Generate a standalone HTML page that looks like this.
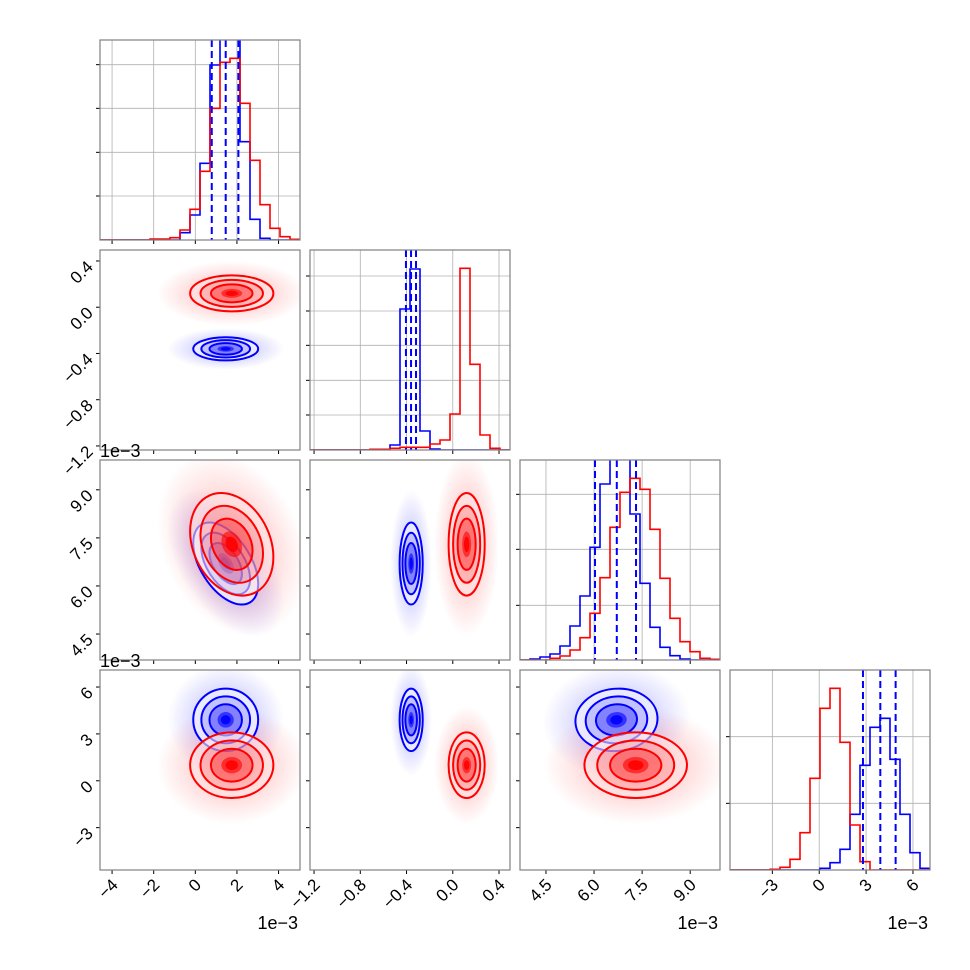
<!DOCTYPE html>
<html><head><meta charset="utf-8">
<style>
html,body{margin:0;padding:0;background:#fff;}
svg{display:block;font-family:"Liberation Sans","DejaVu Sans",sans-serif;}
</style></head>
<body>
<svg id="chart" width="970" height="970" viewBox="0 0 970 970" xmlns="http://www.w3.org/2000/svg">
<defs>
<radialGradient id="gBlue"><stop offset="0" stop-color="#0000ff" stop-opacity="0.35"/><stop offset="0.5" stop-color="#0000ff" stop-opacity="0.15"/><stop offset="1" stop-color="#0000ff" stop-opacity="0"/></radialGradient>
<radialGradient id="gRed"><stop offset="0" stop-color="#ff0000" stop-opacity="0.35"/><stop offset="0.5" stop-color="#ff0000" stop-opacity="0.15"/><stop offset="1" stop-color="#ff0000" stop-opacity="0"/></radialGradient>
</defs>
</svg>
<script>
// ---- data ----
const ranges = [[-4.58,5.03],[-1.235,0.495],[3.69,9.93],[-5.71,7.09]];
const tickVals = [[-4,-2,0,2,4],[-1.2,-0.8,-0.4,0.0,0.4],[4.5,6.0,7.5,9.0],[-3,0,3,6]];
const tickLabels = [["−4","−2","0","2","4"],["−1.2","−0.8","−0.4","0.0","0.4"],["4.5","6.0","7.5","9.0"],["−3","0","3","6"]];
const offsetLabels = ["1e−3","","1e−3","1e−3"];
const blueMean = [1.46,-0.36,6.7,3.9];
const blueStd = [0.78,0.05,0.64,1.0];
const redMean = [1.75,0.12,7.3,1.0];
const redStd = [1.0,0.078,0.8,1.05];
// pairs: (1,0),(2,0),(2,1),(3,0),(3,1),(3,2)
const blueRho = [0,-0.5,0,0,0,0.05];
const redRho = [0,-0.25,0,0,0,0];
const h1Blue=[0,0,0,0,0,0,0,0,22,75,230,525,650,660,295,62,5,0,0,0];
const h1Red=[0,0,0,0,0,3,3,7,30,92,206,395,533,545,410,239,106,35,10,2];
const h2Blue=[0,0,0,0,0,0,0,0,15,423,543,57,3,0,0,0,0,0,0,0];
const h2Red=[0,0,0,0,0,0,2,2,5,8,8,8,18,30,108,545,257,45,5,0];
const h3Blue=[0,3,9,18,42,102,192,338,528,650,640,438,230,98,38,13,3,0,0,0];
const h3Red=[0,0,0,5,12,30,67,140,247,398,503,545,512,392,245,125,55,25,5,2];
const h4Blue=[0,0,0,0,0,0,0,0,0,5,22,62,167,314,428,455,332,167,52,5];
const h4Red=[0,0,0,0,2,8,32,112,275,485,545,383,135,25,0,0,0,0,0,0];
const histMax = 600;
const histTicks = [[132,263,395,526],[105,209,314,417,522],[164,332,497],[200,400]];
const quantiles = [[0.79,1.46,2.07],[-0.405,-0.361,-0.318],[6.03,6.71,7.31],[2.80,3.91,4.89]];
const levels = [2,1.5,1,0.5];

const NS="http://www.w3.org/2000/svg";
const svg=document.getElementById('chart');
const S=200, G=210, L0=100, T0=40;
function el(tag,attrs,parent){const e=document.createElementNS(NS,tag);for(const k in attrs)e.setAttribute(k,attrs[k]);(parent||svg).appendChild(e);return e;}
function xs(p,v){const c=p;return L0+G*c+(v-ranges[p][0])/(ranges[p][1]-ranges[p][0])*S;}
function ys(p,row,v){return T0+G*row+S-(v-ranges[p][0])/(ranges[p][1]-ranges[p][0])*S;}
function kx(p){return S/(ranges[p][1]-ranges[p][0]);}

const hists=[[h1Blue,h1Red],[h2Blue,h2Red],[h3Blue,h3Red],[h4Blue,h4Red]];
const pairIdx={"1,0":0,"2,0":1,"2,1":2,"3,0":3,"3,1":4,"3,2":5};

for(let r=0;r<4;r++){
  for(let c=0;c<=r;c++){
    const left=L0+G*c, top=T0+G*r;
    const g=el('g',{});
    
    
    const cid=`clip${r}${c}`;
    const cp=el('clipPath',{id:cid},g);el('rect',{x:left,y:top,width:S,height:S},cp);
    const inner=el('g',{'clip-path':`url(#${cid})`},g);
    if(r===c){
      tickVals[c].forEach(v=>{const x=xs(c,v);el('line',{x1:x,x2:x,y1:top,y2:top+S,stroke:'#b0b0b0','stroke-width':0.8},inner);});
      histTicks[c].forEach(v=>{const y=top+S-v/histMax*S;el('line',{x1:left,x2:left+S,y1:y,y2:y,stroke:'#b0b0b0','stroke-width':0.8},inner);
        el('line',{x1:left-4,x2:left,y1:y,y2:y,stroke:'#000','stroke-width':1},g);});
      const cols=['#0000ff','#ff0000'];
      hists[c].forEach((h,si)=>{
        let d=`M${left},${top+S}`;const bw=S/h.length;
        h.forEach((v,i)=>{const y=top+S-v/histMax*S;d+=` L${left+i*bw},${y} L${left+(i+1)*bw},${y}`;});
        d+=` L${left+S},${top+S}`;
        const p=el('path',{d,fill:'none',stroke:cols[si],'stroke-width':1.6},inner);
        
        
      });
      quantiles[c].forEach(q=>{const x=xs(c,q);const ln=el('line',{x1:x,x2:x,y1:top,y2:top+S,stroke:'#0000ff','stroke-width':2,'stroke-dasharray':'7,4'},inner);
        
        });
    } else {
      const series=[[blueMean,blueStd,blueRho,'#0000ff','url(#gBlue)'],[redMean,redStd,redRho,'#ff0000','url(#gRed)']];
      const geo=series.map(([m,s,rho])=>{
        const cx=xs(c,m[c]), cy=ys(r,r,m[r]);
        const sx=s[c]*kx(c), sy=s[r]*kx(r), rh=-rho[pairIdx[r+","+c]];
        const a=sx*sx,d=sy*sy,b=rh*sx*sy;
        const mid=(a+d)/2, del=Math.sqrt(((a-d)/2)**2+b*b);
        const ang=0.5*Math.atan2(2*b,a-d)*180/Math.PI;
        return {cx,cy,r1:Math.sqrt(mid+del),r2:Math.sqrt(Math.max(mid-del,0.5)),ang};
      });
      series.forEach((sr,si)=>{const o=geo[si];
        el('ellipse',{cx:o.cx,cy:o.cy,rx:o.r1*3.6,ry:o.r2*3.6,fill:sr[4],transform:`rotate(${o.ang} ${o.cx} ${o.cy})`},inner);});
      series.forEach((sr,si)=>{const o=geo[si];const col=sr[3];
        const tr=`rotate(${o.ang} ${o.cx} ${o.cy})`;
        el('ellipse',{cx:o.cx,cy:o.cy,rx:o.r1*2,ry:o.r2*2,fill:'#fff','fill-opacity':si===0?0.85:0.55,transform:tr},inner);
        const fo=[0.06,0.16,0.32,0.6];
        levels.forEach((lv,i)=>el('ellipse',{cx:o.cx,cy:o.cy,rx:o.r1*lv,ry:o.r2*lv,fill:col,'fill-opacity':fo[i],transform:tr},inner));
        el('ellipse',{cx:o.cx,cy:o.cy,rx:o.r1*0.3,ry:o.r2*0.3,fill:col,'fill-opacity':0.9,transform:tr},inner);
        levels.slice(0,3).forEach(lv=>{const e=el('ellipse',{cx:o.cx,cy:o.cy,rx:o.r1*lv,ry:o.r2*lv,fill:'none',stroke:col,'stroke-width':2,transform:tr},inner);
          
          });
      });
      tickVals[r].forEach((v,i)=>{const y=ys(r,r,v);el('line',{x1:left-4,x2:left,y1:y,y2:y,stroke:'#000','stroke-width':1},g);
        if(c===0){const t=el('text',{x:left-10,y:y+3,'text-anchor':'end','dominant-baseline':'central','font-size':17,transform:`rotate(-45 ${left-10} ${y+3})`},g);t.textContent=tickLabels[r][i];
          
          }
      });
      if(c===0 && offsetLabels[r]){const t=el('text',{x:left,y:top-3,'font-size':18},g);t.textContent=offsetLabels[r];
        
        }
    }
    tickVals[c].forEach((v,i)=>{const x=xs(c,v);el('line',{x1:x,x2:x,y1:top+S,y2:top+S+4,stroke:'#000','stroke-width':1},g);
      if(r===3){const t=el('text',{x:x+3,y:top+S+12,'text-anchor':'end','dominant-baseline':'central','font-size':17,transform:`rotate(-45 ${x+3} ${top+S+12})`},g);t.textContent=tickLabels[c][i];
        
        }
    });
    if(r===3 && offsetLabels[c]){const t=el('text',{x:left+S-2,y:top+S+59,'text-anchor':'end','font-size':18},g);t.textContent=offsetLabels[c];
      
      }
    el('rect',{x:left,y:top,width:S,height:S,fill:'none',stroke:'#808080','stroke-width':1.2},g);
  }
}
</script>
</body></html>
